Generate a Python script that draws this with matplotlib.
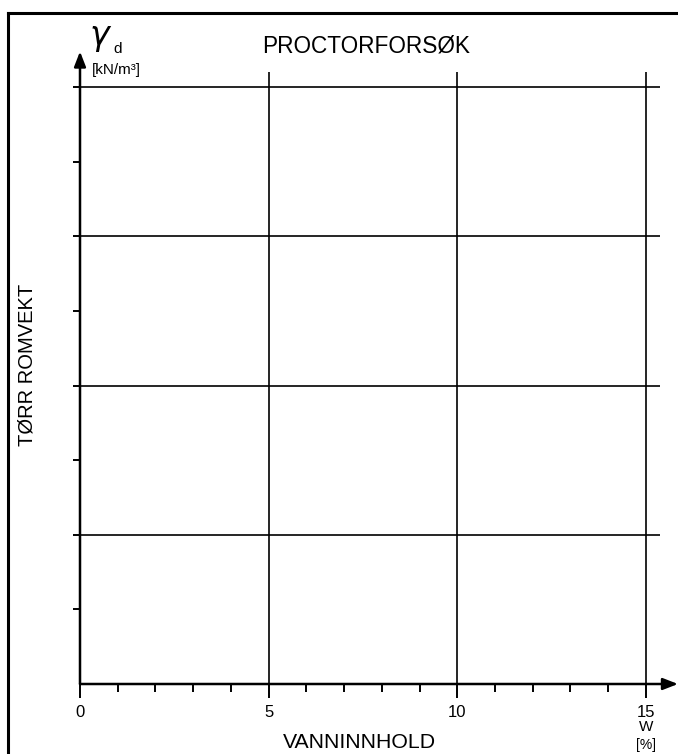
import matplotlib
matplotlib.use("Agg")
import matplotlib.pyplot as plt
from matplotlib.lines import Line2D

plt.rcParams["font.family"] = ["Liberation Sans", "DejaVu Sans"]

# Chart content (blank Proctor test form)
title = "PROCTORFORSØK"
x_label = "VANNINNHOLD"
y_label = "TØRR ROMVEKT"
y_symbol = r"$\gamma$"
y_symbol_sub = "d"
y_unit = "[kN/m³]"
x_symbol = "W"
x_unit = "[%]"

x_major = [0, 5, 10, 15]
x_major_labels = ["0", "5", "10", "15"]
x_minor = [1, 2, 3, 4, 6, 7, 8, 9, 11, 12, 13, 14]
x_grid = [5, 10, 15]
y_grid = [1, 2, 3, 4]
y_minor = [0.5, 1.5, 2.5, 3.5]

x_max, y_max = 15.85, 4.25

fig = plt.figure(figsize=(6.78, 7.54), dpi=100)
ax = fig.add_axes([80 / 678, 70 / 754, 598 / 678, 634 / 754])
ax.set_xlim(0, x_max)
ax.set_ylim(0, y_max)
for s in ax.spines.values():
    s.set_visible(False)

# grid
ax.vlines(x_grid, 0, 4.1, color="black", lw=1.2)
ax.hlines(y_grid, 0, 15.37, color="black", lw=1.2)

# axes with arrows
arrow = dict(arrowstyle="-|>,head_length=0.9,head_width=0.35", color="black",
             lw=1.8, shrinkA=0, shrinkB=0)
ax.annotate("", xy=(x_max, 0), xytext=(0, 0), arrowprops=arrow, annotation_clip=False)
ax.annotate("", xy=(0, y_max - 0.01), xytext=(0, 0), arrowprops=arrow, annotation_clip=False)

# ticks
ax.set_xticks(x_major, x_major_labels)
ax.set_xticks(x_minor, minor=True)
ax.set_yticks(y_grid, [])
ax.set_yticks(y_minor, minor=True)
ax.tick_params(axis="x", which="major", direction="out", length=10, width=1.4,
               pad=5, labelsize=12)
ax.tick_params(axis="x", which="minor", direction="out", length=6, width=1.4)
ax.tick_params(axis="y", which="both", direction="out", length=5, width=1.4)

ax.annotate(x_symbol, xy=(15, 0), xytext=(0, -31), textcoords="offset points",
            ha="center", va="center", fontsize=11, annotation_clip=False)
ax.annotate(x_unit, xy=(15, 0), xytext=(0, -44), textcoords="offset points",
            ha="center", va="center", fontsize=10, annotation_clip=False)

# texts
fig.text(366 / 678, 1 - 46 / 754, title, ha="center", va="center", fontsize=16.3)
fig.text(359 / 678, 1 - 742 / 754, x_label, ha="center", va="center", fontsize=15.3)
fig.text(27 / 678, 1 - 365 / 754, y_label, ha="center", va="center",
         rotation=90, fontsize=14.5)
fig.text(101 / 678, 1 - 39 / 754, y_symbol, ha="center", va="center", fontsize=24)
fig.text(118 / 678, 1 - 49 / 754, y_symbol_sub, ha="center", va="center", fontsize=11)
fig.text(92 / 678, 1 - 70 / 754, y_unit, ha="left", va="center", fontsize=11)

# outer frame (left and top edges)
fig.add_artist(Line2D([8 / 678, 8 / 678], [0, 1 - 13 / 754], color="black", lw=2.2))
fig.add_artist(Line2D([8 / 678, 1], [1 - 13 / 754, 1 - 13 / 754], color="black", lw=2.2))

fig.savefig("out.png", dpi=100)
